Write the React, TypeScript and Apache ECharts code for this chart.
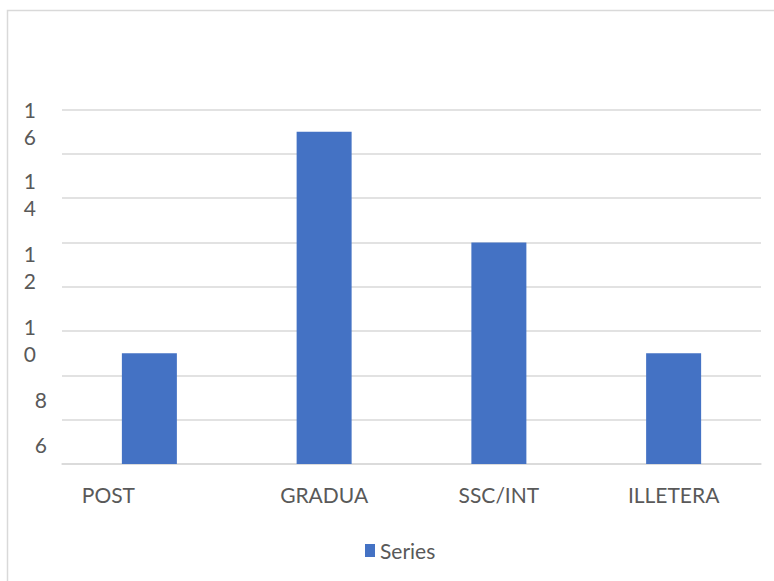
import React, { useEffect, useRef } from "react";
import * as echarts from "echarts";

const categories = ["POST", "GRADUA", "SSC/INT", "ILLETERA"];
const seriesName = "Series";
const values = [5, 15, 10, 5];

// y-axis tick labels as they appear (wrapped digits), and the value they sit at
const yTickLabels = ["1\n6", "1\n4", "1\n2", "1\n0", "8", "6"];
const yTickLabelAt = [15.4, 12.2, 8.9, 5.6, 2.9, 0.9];

const TEXT = "#595959";
const FONT = "Lato";

export default function App() {
  const ref = useRef<HTMLDivElement>(null);
  useEffect(() => {
    if (!ref.current) return;
    const chart = echarts.init(ref.current, null, { renderer: "svg" });
    const labelMap: Record<number, string> = {};
    yTickLabelAt.forEach((v, i) => {
      labelMap[Math.round(v * 10)] = yTickLabels[i];
    });
    chart.setOption({
      animation: false,
      backgroundColor: "#ffffff",
      textStyle: { fontFamily: FONT },
      graphic: [
        {
          type: "rect",
          shape: { x: 7.5, y: 10.5, width: 820, height: 620 },
          style: { fill: "none", stroke: "#d9d9d9", lineWidth: 1.5 },
          silent: true,
        },
      ],
      grid: { left: 62, right: 13, top: 109.5, bottom: 117 },
      legend: {
        left: 365,
        top: 540,
        padding: 0,
        itemWidth: 10,
        itemHeight: 13,
        icon: "rect",
        textStyle: { color: TEXT, fontSize: 21, fontFamily: FONT },
        data: [seriesName],
      },
      xAxis: {
        type: "category",
        data: categories,
        axisLine: { lineStyle: { color: "#d9d9d9", width: 1.5 } },
        axisTick: { show: false },
        axisLabel: {
          color: TEXT,
          fontSize: 21,
          fontFamily: FONT,
          margin: 20,
          formatter: (v: string, i: number) => (i === 0 ? "{p|" + v + "}" : v),
          rich: {
            p: { color: TEXT, fontSize: 21, fontFamily: FONT, padding: [0, 82, 0, 0] },
          },
        },
      },
      yAxis: [
        {
          type: "value",
          min: 0,
          max: 16,
          interval: 2,
          axisLine: { show: false },
          axisTick: { show: false },
          axisLabel: { show: false },
          splitLine: { lineStyle: { color: "#d9d9d9", width: 1.5 } },
        },
        {
          type: "value",
          position: "left",
          min: 0,
          max: 16,
          interval: 0.1,
          axisLine: { show: false },
          axisTick: { show: false },
          splitLine: { show: false },
          axisLabel: {
            margin: 15,
            color: TEXT,
            fontSize: 21,
            fontFamily: FONT,
            formatter: (v: number) => {
              const s = labelMap[Math.round(v * 10)];
              if (!s) return "";
              if (s.indexOf("\n") >= 0) {
                return s
                  .split("\n")
                  .map((p) => "{w|" + p + "}")
                  .join("\n");
              }
              return "{s|" + s + "}";
            },
            rich: {
              w: { fontSize: 21, color: TEXT, fontFamily: FONT, lineHeight: 27, padding: [0, 11, 0, 0] },
              s: { fontSize: 21, color: TEXT, fontFamily: FONT, lineHeight: 27 },
            },
          },
        },
      ],
      series: [
        {
          name: seriesName,
          type: "bar",
          data: values,
          barWidth: 55,
          itemStyle: { color: "#4472c4" },
        },
      ],
    });
    return () => chart.dispose();
  }, []);
  return (
    <div
      ref={ref}
      style={{ position: "fixed", left: 0, top: 0, width: 774, height: 581 }}
    />
  );
}
